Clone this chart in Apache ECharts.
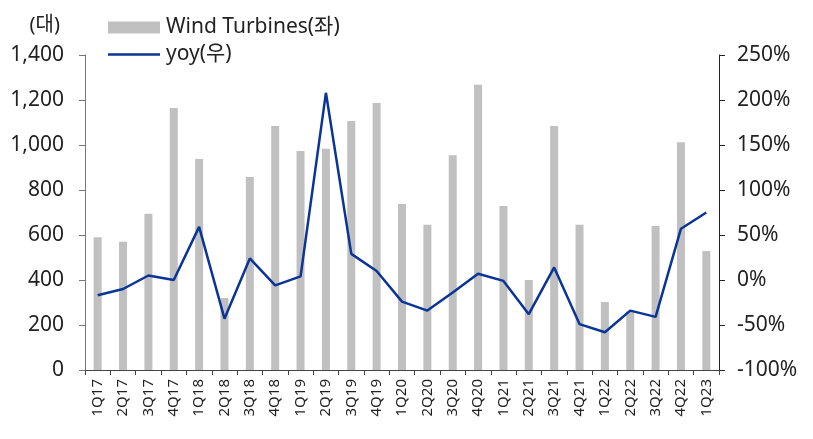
<!DOCTYPE html>
<html>
<head>
<meta charset="utf-8">
<script src="https://cdn.jsdelivr.net/npm/echarts@6/dist/echarts.min.js"></script>
<style>
  html, body { margin: 0; padding: 0; background: #fff; }
  #chart { width: 813px; height: 439px; }
</style>
</head>
<body>
<div id="chart"></div>
<script>
// quarters
const quarters = ['1Q17', '2Q17', '3Q17', '4Q17', '1Q18', '2Q18', '3Q18', '4Q18',
    '1Q19', '2Q19', '3Q19', '4Q19', '1Q20', '2Q20', '3Q20', '4Q20',
    '1Q21', '2Q21', '3Q21', '4Q21', '1Q22', '2Q22', '3Q22', '4Q22', '1Q23'];

// units (left axis)
const turbines = [590, 570, 695, 1165, 938, 320, 858, 1084,
    973, 983, 1107, 1187, 738, 646, 955, 1268,
    729, 400, 1084, 646, 302, 260, 640, 1012, 529];

// yoy % (right axis)
const yoy = [-17, -10, 5, 0, 59, -43, 24, -6,
    4, 208, 29, 10, -24, -34, -14, 7,
    -1, -38, 14, -49, -58, -34, -41, 57, 75];

const font = '"Noto Sans", "Noto Sans CJK KR", sans-serif';
const textColor = '#222';
const lineColor = '#0a3596';

let chart = echarts.init(document.getElementById('chart'));
let option = {
    animation: false,
    textStyle: { fontFamily: font },
    grid: { left: 85, right: 94, top: 55, bottom: 69, containLabel: false },
    legend: {
        orient: 'vertical',
        left: 108,
        top: 17,
        padding: 0,
        itemWidth: 52,
        itemHeight: 12,
        itemGap: 6,
        symbolKeepAspect: true,
        textStyle: { fontFamily: font, fontSize: 21, color: textColor, padding: [0, 0, 0, 1] },
        data: [
            { name: 'Wind Turbines(좌)', icon: 'rect' },
            { name: 'yoy(우)', icon: 'path://M0,0L52,0L52,2.6L0,2.6Z', itemStyle: { color: lineColor } }
        ]
    },
    xAxis: {
        type: 'category',
        data: quarters,
        axisLine: { lineStyle: { color: '#444' } },
        axisTick: { show: true, length: 5, alignWithLabel: false, lineStyle: { color: '#444' } },
        axisLabel: { rotate: 90, fontSize: 15, color: textColor, margin: 9, interval: 0 }
    },
    yAxis: [{
        type: 'value',
        min: 0,
        max: 1400,
        interval: 200,
        name: '(대)',
        nameLocation: 'end',
        nameGap: 20,
        nameTextStyle: { fontSize: 20, color: textColor, align: 'right', padding: [0, 25, 0, 0] },
        axisLine: { show: true, lineStyle: { color: '#777' } },
        axisTick: { show: true, length: 6, lineStyle: { color: '#777' } },
        splitLine: { show: false },
        axisLabel: {
            fontSize: 21, color: textColor, margin: 21,
            formatter: v => v.toLocaleString('en-US')
        }
    }, {
        type: 'value',
        min: -100,
        max: 250,
        interval: 50,
        position: 'right',
        axisLine: { show: true, lineStyle: { color: '#222' } },
        axisTick: { show: true, length: 6, lineStyle: { color: '#222' } },
        splitLine: { show: false },
        axisLabel: { fontSize: 21, color: textColor, margin: 18, formatter: '{value}%' }
    }],
    series: [{
        name: 'Wind Turbines(좌)',
        type: 'bar',
        yAxisIndex: 0,
        barWidth: 8,
        itemStyle: { color: '#c0c0c0' },
        data: turbines
    }, {
        name: 'yoy(우)',
        type: 'line',
        yAxisIndex: 1,
        symbol: 'none',
        lineStyle: { color: lineColor, width: 2.5 },
        itemStyle: { color: lineColor },
        data: yoy
    }]
};
chart.setOption(option);
</script>
</body>
</html>
